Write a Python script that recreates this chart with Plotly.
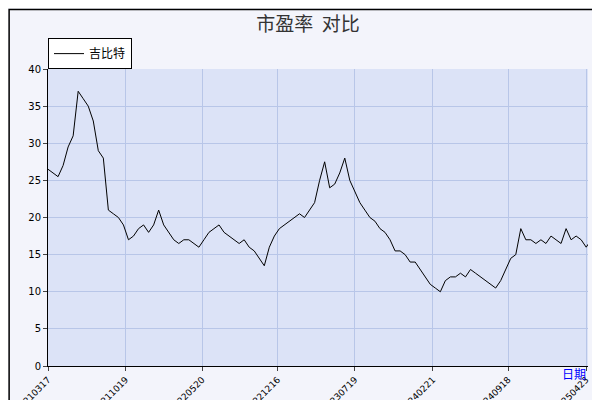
import plotly.graph_objects as go
import pandas as pd

values = [26.5,26,25.5,27,29.5,31,37,36,35,33,29,28,21,20.5,20,19,17,17.5,18.5,19,18,19,21,19,18,17,16.5,17,17,16.5,16,17,18,18.5,19,18,17.5,17,16.5,17,16,15.5,14.5,13.5,16,17.5,18.5,19,19.5,20,20.5,20,21,22,25,27.5,24,24.5,26,28,25,23.5,22,21,20,19.5,18.5,18,17,15.5,15.5,15,14,14,13,12,11,10.5,10,11.5,12,12,12.5,12,13,12.5,12,11.5,11,10.5,11.5,13,14.5,15,18.5,17,17,16.5,17,16.5,17.5,17,16.5,18.5,17,17.5,17,16,17,17.5]
dates = pd.date_range("2021-03-17", periods=len(values), freq="14D")
tick_labels = ["20210317","20211019","20220520","20221216","20230719","20240221","20240918","20250423"]
tick_dates = pd.to_datetime(tick_labels, format="%Y%m%d")

fig = go.Figure()
fig.add_trace(go.Scatter(x=dates, y=values, mode="lines", name="吉比特",
                         line=dict(color="black", width=1)))
fig.update_layout(
    width=600, height=400, margin=dict(l=40, r=20, t=61, b=42, autoexpand=False),
    paper_bgcolor="#f3f4fb", plot_bgcolor="#dce3f7",
    title=dict(text="市盈率  对比", x=0.5, y=0.975, xanchor="center",
               font=dict(size=19, color="#333", family="Noto Sans CJK SC")),
    font=dict(family="DejaVu Sans", size=10, color="black"),
    showlegend=True,
    legend=dict(x=0.0, y=1.104, xanchor="left", yanchor="top", bgcolor="white",
                bordercolor="black", borderwidth=1, itemwidth=30,
                font=dict(size=12, family="Noto Sans CJK SC")),
)
fig.update_xaxes(range=[dates[0], tick_dates[-1] + pd.Timedelta(days=5)], tickvals=tick_dates, ticktext=tick_labels,
                 tickangle=-45, showgrid=True, gridcolor="#b8c6e8", showline=True, linecolor="black",
                 ticks="outside", ticklen=4, tickfont=dict(size=9), automargin=False)
fig.update_yaxes(range=[0, 40], dtick=5, showgrid=True, gridcolor="#b8c6e8", showline=True,
                 linecolor="black", ticks="outside", ticklen=4, zeroline=False, automargin=False)
fig.add_annotation(text="日期", xref="paper", yref="paper", x=1.0, y=-0.06, showarrow=False,
                   font=dict(color="blue", size=12, family="Noto Sans CJK SC"), xanchor="right")
fig.add_shape(type="rect", xref="paper", yref="paper", x0=-0.072, x1=1.033, y0=-0.135, y1=1.2,
              line=dict(color="black", width=1.5))
fig.write_html("out.html")
